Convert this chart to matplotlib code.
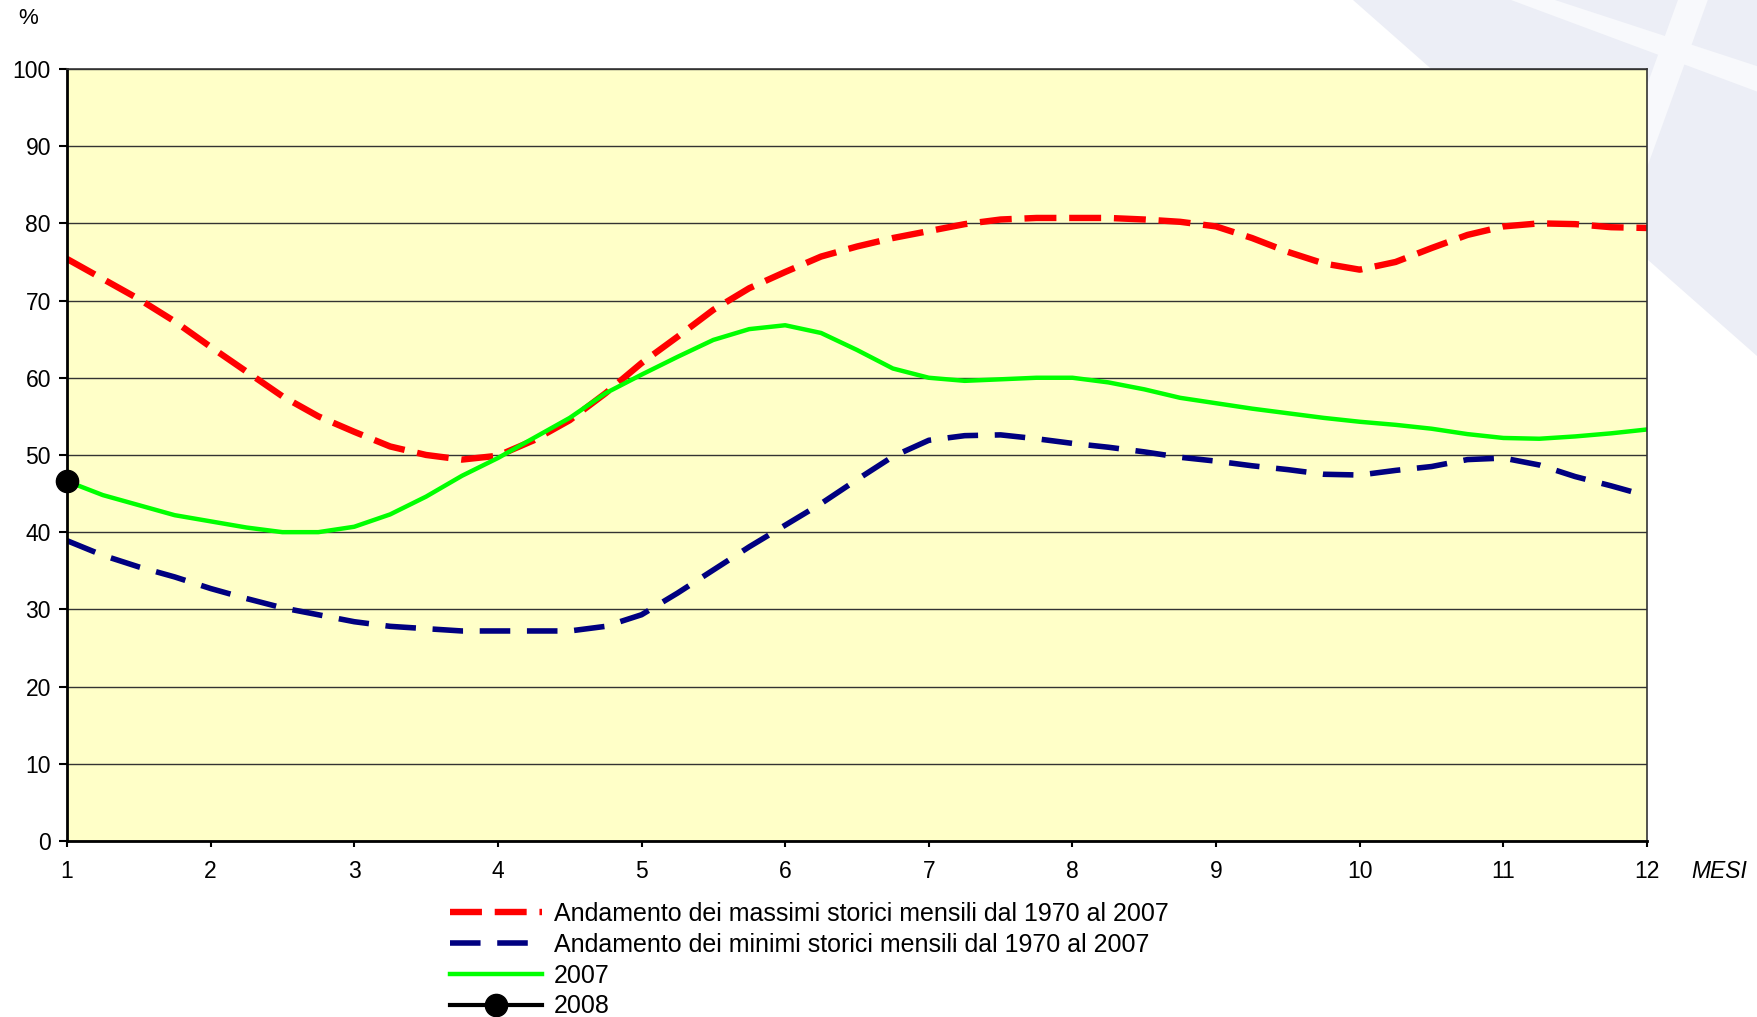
import numpy as np
import matplotlib
matplotlib.use("Agg")
import matplotlib.pyplot as plt
from matplotlib.patches import Polygon

plt.rcParams['font.family'] = ['Liberation Sans', 'DejaVu Sans']

# months sampled every quarter of a month, 1 .. 12
mesi = np.arange(1, 12.01, 0.25)

# historical monthly maxima 1970-2007 (%)
massimi = [75.4, 72.8, 70.2, 67.3, 64.0, 60.8, 57.6, 55.0, 53.0, 51.1, 50.0, 49.4,
           49.9, 51.9, 54.5, 58.0, 61.9, 65.3, 68.8, 71.6, 73.7, 75.7, 77.0, 78.1,
           79.0, 79.9, 80.5, 80.7, 80.7, 80.7, 80.5, 80.2, 79.6, 78.1, 76.3, 74.8,
           74.0, 75.0, 76.8, 78.5, 79.6, 80.0, 79.9, 79.5, 79.4]

# historical monthly minima 1970-2007 (%)
minimi = [38.9, 37.0, 35.5, 34.2, 32.7, 31.4, 30.2, 29.3, 28.4, 27.8, 27.5, 27.2,
          27.2, 27.2, 27.2, 27.8, 29.3, 32.1, 35.1, 38.1, 40.9, 43.7, 46.8, 49.8,
          51.9, 52.5, 52.6, 52.1, 51.5, 51.0, 50.4, 49.7, 49.2, 48.6, 48.1, 47.5,
          47.4, 48.0, 48.5, 49.4, 49.6, 48.7, 47.2, 46.0, 44.7]

# year 2007 (%)
anno2007 = [46.6, 44.8, 43.5, 42.2, 41.4, 40.6, 40.0, 40.0, 40.7, 42.3, 44.6, 47.3,
            49.6, 52.2, 54.8, 58.0, 60.4, 62.7, 64.9, 66.3, 66.8, 65.8, 63.6, 61.2,
            60.0, 59.6, 59.8, 60.0, 60.0, 59.4, 58.5, 57.4, 56.7, 56.0, 55.4, 54.8,
            54.3, 53.9, 53.4, 52.7, 52.2, 52.1, 52.4, 52.8, 53.3]

# year 2008, only January so far
mesi2008 = [1]
anno2008 = [46.6]

labels = ["Andamento dei massimi storici mensili dal 1970 al 2007",
          "Andamento dei minimi storici mensili dal 1970 al 2007",
          "2007", "2008"]

fig = plt.figure(figsize=(17.57, 10.17), dpi=100)
fig.patch.set_facecolor('white')

# faint decoration in the top right corner, behind everything
deco = [([(0.77, 1.0), (1.0, 1.0), (1.0, 0.65)], '#ECEEF6'),
        ([(0.86, 1.0), (0.885, 1.0), (1.0, 0.935), (1.0, 0.91)], '#F8F9FC'),
        ([(0.955, 1.0), (0.972, 1.0), (0.93, 0.80), (0.913, 0.80)], '#F8F9FC')]
for pts, col in deco:
    fig.add_artist(Polygon(pts, closed=True, transform=fig.transFigure,
                           facecolor=col, edgecolor='none', zorder=-10))

ax = fig.add_axes([0.0381, 0.1731, 0.8993, 0.7591])
ax.set_zorder(1)
ax.set_facecolor('#FFFFC8')

l1, = ax.plot(mesi, massimi, color='#FF0000', lw=4.6, dashes=(5.0, 2.0),
              dash_capstyle='butt')
l2, = ax.plot(mesi, minimi, color='#000080', lw=4.0, dashes=(5.5, 3.0),
              dash_capstyle='butt')
l3, = ax.plot(mesi, anno2007, color='#00FF00', lw=3.2)
l4, = ax.plot(mesi2008, anno2008, color='black', lw=3.0, marker='o',
              markersize=16, clip_on=False, zorder=5)

ax.set_xlim(1, 12)
ax.set_ylim(0, 100)
ax.set_xticks(range(1, 13))
ax.set_yticks(range(0, 101, 10))
ax.yaxis.grid(True, color='#333333', lw=1.0)
ax.set_axisbelow(True)

for s in ['left', 'bottom']:
    ax.spines[s].set_linewidth(2.0)
    ax.spines[s].set_color('black')
for s in ['top', 'right']:
    ax.spines[s].set_linewidth(1.2)
    ax.spines[s].set_color('#333333')

ax.tick_params(axis='both', direction='out', width=1.5,
               labelsize=16.5, colors='black')
ax.tick_params(axis='x', length=4, pad=10)
ax.tick_params(axis='y', length=5.5, pad=6)

fig.text(28 / 1757, 1 - 19 / 1017, '%', fontsize=16, ha='center', va='center')
fig.text(1719 / 1757, 1 - 871 / 1017, 'MESI', fontsize=16.5, style='italic',
         ha='center', va='center')

fig.legend([l1, l2, l3, l4], labels, loc='upper left',
           bbox_to_anchor=(0.256, 0.113), frameon=False, fontsize=18,
           handlelength=3.7, handletextpad=0.45, labelspacing=0.27,
           borderpad=0, borderaxespad=0)

fig.savefig('out.png', dpi=100)
